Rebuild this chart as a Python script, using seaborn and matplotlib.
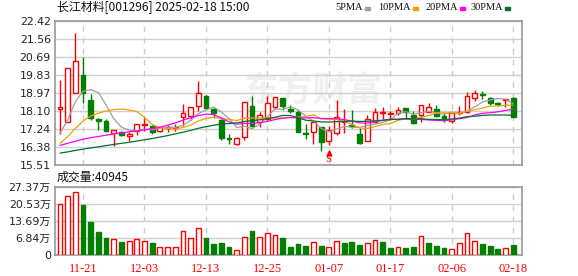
import matplotlib
matplotlib.use("Agg")
import matplotlib.pyplot as plt
from matplotlib.patches import Rectangle
import seaborn as sns

# daily bars, 2024-11-18 .. 2025-02-18 (60 trading days)
opens = [18.20, 17.56, 18.95, 19.83, 18.63, 17.72, 17.62, 17.05, 17.10, 16.88,
         17.12, 17.43, 17.40, 17.12, 17.28, 17.30, 17.79, 17.84, 18.34, 18.82,
         18.18, 17.67, 16.79, 16.50, 16.84, 18.34, 17.56, 17.70, 18.31, 18.71,
         18.22, 18.05, 17.06, 17.08, 17.32, 16.68, 17.05, 17.58, 17.45, 16.99,
         16.66, 17.59, 18.02, 17.97, 18.02, 18.23, 17.91, 17.91, 18.07, 18.18,
         17.88, 17.62, 18.00, 18.04, 18.71, 18.90, 18.71, 18.50, 18.62, 18.71]
highs = [19.60, 20.16, 21.83, 20.68, 18.92, 17.78, 17.72, 17.18, 17.14, 17.09,
         17.47, 17.78, 17.44, 17.34, 17.41, 17.49, 18.44, 18.28, 19.54, 18.86,
         18.23, 17.74, 16.99, 16.84, 18.55, 18.82, 18.07, 18.82, 18.77, 18.74,
         18.39, 18.15, 17.50, 17.60, 17.35, 17.38, 18.63, 18.20, 18.15, 17.27,
         17.91, 18.23, 18.27, 18.12, 18.27, 18.25, 18.12, 18.40, 18.47, 18.39,
         17.99, 18.00, 18.34, 18.99, 19.11, 19.06, 18.78, 18.55, 18.66, 18.75]
lows = [16.98, 17.55, 18.95, 18.47, 17.67, 17.19, 17.07, 16.40, 16.90, 16.68,
        16.95, 17.16, 17.00, 17.08, 17.11, 17.16, 17.38, 17.67, 18.12, 18.18,
        17.75, 16.72, 16.52, 16.48, 16.71, 17.34, 17.35, 17.65, 18.18, 18.15,
        18.00, 17.10, 16.74, 16.50, 16.20, 16.45, 16.97, 17.05, 17.28, 16.50,
        16.64, 17.58, 17.70, 17.70, 17.91, 17.70, 17.46, 17.59, 18.06, 17.80,
        17.59, 17.51, 17.92, 18.02, 18.60, 18.66, 18.40, 18.36, 18.31, 17.80]
closes = [18.27, 20.15, 20.48, 18.95, 17.76, 17.63, 17.12, 17.18, 16.97, 16.99,
          17.46, 17.48, 17.08, 17.32, 17.33, 17.35, 17.99, 18.27, 18.95, 18.23,
          18.02, 16.79, 16.74, 16.79, 18.52, 17.40, 17.90, 18.47, 18.76, 18.34,
          18.08, 17.11, 16.98, 17.59, 16.60, 17.20, 17.80, 17.62, 17.40, 16.55,
          17.70, 18.07, 18.05, 17.99, 18.15, 18.07, 17.51, 18.39, 18.28, 17.86,
          17.72, 17.99, 18.04, 18.82, 18.95, 18.85, 18.47, 18.43, 18.66, 17.83]
# volume in 万 (10k shares)
volumes = [20.7, 23.6, 25.5, 20.0, 13.2, 9.1, 6.7, 6.6, 5.1, 5.5,
           6.6, 5.8, 4.7, 3.4, 3.4, 3.4, 9.8, 7.0, 11.0, 6.7,
           4.3, 4.7, 3.1, 2.2, 7.4, 9.5, 7.4, 9.0, 8.2, 6.7,
           3.1, 4.3, 3.5, 5.1, 3.5, 3.4, 5.8, 4.7, 5.1, 3.9,
           4.7, 6.2, 5.1, 2.7, 3.4, 2.7, 3.1, 7.8, 4.7, 3.5,
           2.7, 2.6, 4.7, 8.7, 5.8, 4.3, 3.5, 2.3, 3.0, 4.0945]

ma5 = [17.03, 17.67, 18.55, 19.05, 19.12, 18.99, 18.39, 17.73, 17.33, 17.18,
       17.14, 17.22, 17.20, 17.27, 17.33, 17.31, 17.41, 17.65, 17.97, 18.15,
       18.29, 18.05, 17.75, 17.31, 17.37, 17.25, 17.47, 17.82, 18.21, 18.17,
       18.31, 18.15, 17.85, 17.62, 17.27, 17.10, 17.23, 17.36, 17.32, 17.31,
       17.41, 17.47, 17.55, 17.67, 17.99, 18.07, 17.95, 18.02, 18.08, 18.02,
       17.95, 18.05, 17.98, 18.09, 18.30, 18.53, 18.63, 18.70, 18.67, 18.45]
ma10 = [16.55, 16.87, 17.27, 17.62, 17.86, 18.00, 18.10, 18.17, 18.20, 18.15,
        18.07, 17.80, 17.46, 17.30, 17.26, 17.23, 17.31, 17.42, 17.62, 17.74,
        17.80, 17.73, 17.70, 17.64, 17.76, 17.77, 17.76, 17.78, 17.76, 17.77,
        17.78, 17.81, 17.84, 17.92, 17.72, 17.70, 17.69, 17.61, 17.47, 17.29,
        17.26, 17.35, 17.46, 17.50, 17.65, 17.74, 17.71, 17.79, 17.88, 18.01,
        18.01, 18.00, 18.00, 18.08, 18.16, 18.24, 18.34, 18.34, 18.38, 18.38]
ma20 = [16.45, 16.55, 16.65, 16.75, 16.82, 16.88, 16.94, 17.00, 17.05, 17.10,
        17.15, 17.20, 17.26, 17.32, 17.42, 17.53, 17.66, 17.78, 17.88, 17.95,
        17.93, 17.77, 17.58, 17.47, 17.51, 17.50, 17.54, 17.60, 17.69, 17.76,
        17.79, 17.77, 17.77, 17.78, 17.74, 17.74, 17.73, 17.69, 17.62, 17.53,
        17.52, 17.58, 17.65, 17.71, 17.69, 17.72, 17.70, 17.70, 17.67, 17.65,
        17.63, 17.68, 17.73, 17.79, 17.91, 17.99, 18.02, 18.06, 18.13, 18.19]
ma30 = [16.08, 16.14, 16.21, 16.27, 16.33, 16.38, 16.44, 16.50, 16.55, 16.60,
        16.66, 16.72, 16.78, 16.85, 16.92, 17.00, 17.08, 17.17, 17.27, 17.35,
        17.42, 17.47, 17.50, 17.53, 17.60, 17.64, 17.68, 17.74, 17.80, 17.89,
        17.88, 17.78, 17.66, 17.62, 17.58, 17.57, 17.59, 17.60, 17.62, 17.60,
        17.61, 17.63, 17.66, 17.69, 17.71, 17.74, 17.72, 17.73, 17.70, 17.69,
        17.68, 17.72, 17.76, 17.83, 17.85, 17.89, 17.91, 17.91, 17.91, 17.89]

date_pos = [3, 11, 19, 27, 35, 43, 51, 59]
date_labels = ['11-21', '12-03', '12-13', '12-25', '01-07', '01-17', '02-06', '02-18']
price_ticks = [15.51, 16.38, 17.24, 18.10, 18.97, 19.83, 20.69, 21.56, 22.42]
vol_ticks = [0, 6.84, 13.69, 20.53, 27.37]
vol_tick_labels = ['0', '6.84万', '13.69万', '20.53万', '27.37万']
ma_names = ['5PMA', '10PMA', '20PMA', '30PMA']
ma_colors = ['#a0a0a0', '#f5a000', '#ff00ff', '#00702e']
signal_day = 35

RED, GREEN = '#ff0000', '#008000'
CJK = ['Noto Sans CJK SC', 'DejaVu Sans']

sns.set_style("white")
plt.rcParams['font.family'] = ['DejaVu Sans', 'Noto Sans CJK SC']

W, H = 578, 276
fig = plt.figure(figsize=(W / 100, H / 100), dpi=100)


def box(l, t, r, b):
    return [l / W, 1 - b / H, (r - l) / W, (b - t) / H]


ax = fig.add_axes(box(55, 21, 522, 165))
axv = fig.add_axes(box(55, 187, 522, 255))

idx = list(range(len(closes)))
bw = 0.62

# candles
for i in idx:
    o, h, l, c = opens[i], highs[i], lows[i], closes[i]
    up = c >= o
    col = RED if up else GREEN
    ax.vlines(i, l, h, color=col, lw=1, zorder=2)
    ax.bar(i, max(abs(c - o), 0.015), bottom=min(o, c), width=bw,
           facecolor='white' if up else GREEN, edgecolor=col, lw=1, zorder=3)

# moving averages
for vals, colr in zip([ma5, ma10, ma20, ma30], ma_colors):
    sns.lineplot(x=idx, y=vals, ax=ax, color=colr, lw=0.9, zorder=4)

# buy signal
ax.plot(signal_day, 16.09, marker='^', color=RED, ms=3.5, zorder=5)
ax.text(signal_day, 15.76, 'S', color=RED, ha='center', va='center',
        fontsize=8, family='Liberation Serif', zorder=5)

# watermark
ax.text(313 / W, 1 - 90 / H, '东方财富', transform=fig.transFigure, ha='center',
        va='center', fontsize=25, color='#f0f0f0', family=CJK,
        fontweight='bold', zorder=0.5)

# volume bars, coloured by close vs previous close
rising = [True] + [closes[i] >= closes[i - 1] for i in idx[1:]]
for i in idx:
    axv.bar(i, volumes[i], width=bw, facecolor='white' if rising[i] else GREEN,
            edgecolor=RED if rising[i] else GREEN, lw=1, zorder=3)

for a in (ax, axv):
    a.set_xlim(-0.65, 60.15)
    a.set_xticks(date_pos)
    a.set_axisbelow(True)
    a.xaxis.grid(True, color='#cccccc', lw=1, ls=(0, (4, 4)))
    a.yaxis.grid(True, color='#d0d0d0', lw=1)
    for s in a.spines.values():
        s.set_color('#999999')
        s.set_linewidth(1.2)
    a.tick_params(length=0, pad=3, labelsize=7.9, labelcolor='#222233')

ax.set_ylim(price_ticks[0], price_ticks[-1])
ax.set_yticks(price_ticks)
ax.set_yticklabels([f'{t:.2f}' for t in price_ticks])
ax.set_xticklabels([])
ax.set_xlabel('')
ax.set_ylabel('')

axv.set_ylim(0, vol_ticks[-1])
axv.set_yticks(vol_ticks)
axv.set_yticklabels(vol_tick_labels)
axv.set_xticklabels(date_labels, color=RED, family='Liberation Serif', fontsize=9)
axv.tick_params(axis='x', pad=6)

# header texts
fig.text(57 / W, 1 - 8 / H, '长江材料[001296] 2025-02-18 15:00', family=CJK,
         fontsize=8.6, va='center', color='#111111')
fig.text(57 / W, 1 - 177 / H, '成交量:40945', family=CJK, fontsize=8.6,
         va='center', color='#111111')

# legend
leg_sq = [365, 413, 460, 505]
for name, colr, sx in zip(ma_names, ma_colors, leg_sq):
    fig.text((sx - 2) / W, 1 - 8 / H, name, family='Liberation Serif',
             fontsize=7.5, ha='right', va='center', color='#111111')
    fig.patches.append(Rectangle((sx / W, 1 - 10 / H), 5 / W, 3 / H,
                                 transform=fig.transFigure, color=colr))

fig.savefig('out.png', dpi=100)
